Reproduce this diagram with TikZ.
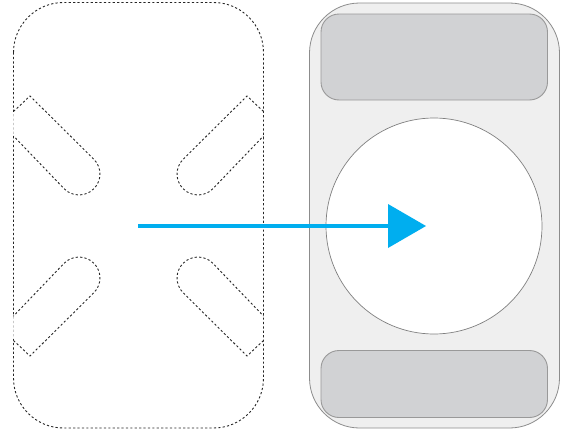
\documentclass[tikz,border=0pt]{standalone}
\definecolor{arrowblue}{HTML}{00AEEF}
\definecolor{panelfill}{HTML}{EFEFEF}
\definecolor{barfill}{HTML}{D1D2D4}
\newcommand{\slotpath}{(13.5,111.5) -- (30,96) -- (93.8,159.2) .. controls (102,167.4) and (102,180.6) .. (93.8,188.8) .. controls (85.6,197) and (72.4,197) .. (64.2,188.8) -- (13.5,136)}
\tikzset{
  dashline/.style={draw=black!85,line width=0.9pt,dash pattern=on 2.2pt off 2.2pt},
  panel/.style={draw=black!45,line width=0.8pt,fill=panelfill},
  bar/.style={draw=black!40,line width=0.9pt,fill=barfill},
  hole/.style={draw=black!50,line width=0.7pt,fill=white}
}
\begin{document}
\begin{tikzpicture}[x=1pt,y=-1pt]
\useasboundingbox (0,0) rectangle (566,434);
% left dashed outline
\draw[dashline,rounded corners=50pt] (13.5,2.5) rectangle (263.5,428);
% faded parts of left edge
\draw[white,line width=1.4pt,opacity=0.75] (13.5,113) -- (13.5,135);
\draw[white,line width=1.4pt,opacity=0.75] (13.5,317) -- (13.5,339);
% slots
\draw[dashline] \slotpath;
\draw[dashline,shift={(277,0)},xscale=-1] \slotpath;
\draw[dashline,shift={(0,452)},yscale=-1] \slotpath;
\draw[dashline,shift={(277,452)},xscale=-1,yscale=-1] \slotpath;
% right panel
\draw[panel,rounded corners=50pt] (309.5,3) rectangle (559.5,428);
\draw[bar,rounded corners=18pt] (321,14) rectangle (547.5,100);
\draw[bar,rounded corners=18pt] (321,350.5) rectangle (547.5,417.5);
\node[hole,circle,minimum size=216pt,inner sep=0pt] (disc) at (434,226) {};
% arrow
\coordinate (arrowstart) at (138,226);
\coordinate (arrowbase) at (388,226);
\coordinate (arrowtop) at (388,204);
\coordinate (arrowbottom) at (388,248);
\coordinate (arrowtip) at (426,226);
\draw[arrowblue,line width=3.6pt] (arrowstart) -- (arrowbase);
\fill[arrowblue] (arrowtop) -- (arrowtip) -- (arrowbottom) -- cycle;
\end{tikzpicture}
\end{document}
